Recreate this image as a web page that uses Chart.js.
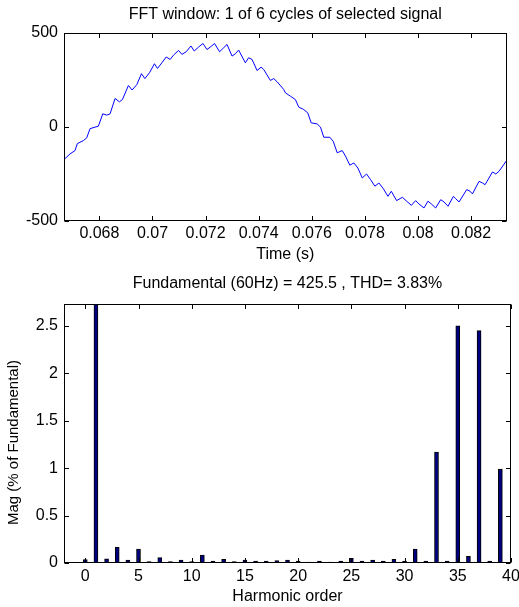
<!DOCTYPE html>
<html>
<head>
<meta charset="utf-8">
<script src="https://cdn.jsdelivr.net/npm/chart.js@4"></script>
<style>
    body { margin: 0; background: #fff; }
    #wrap { position: relative; width: 519px; height: 607px; }
    canvas { position: absolute; left: 0; }
    #signal-graph { top: 0; }
    #fft-graph { top: 265px; }
</style>
</head>
<body>
<div id="wrap">
    <canvas id="signal-graph" width="519" height="265"></canvas>
    <canvas id="fft-graph" width="519" height="342"></canvas>
</div>
<script>
// signal samples (time in s, amplitude)
const timeS = [
    0.066667, 0.066893, 0.067082, 0.067169, 0.067395, 0.067523, 0.067648, 0.067836, 0.067961, 0.068127,
    0.068278, 0.068402, 0.068591, 0.068753, 0.068867, 0.069093, 0.069233, 0.069410, 0.069584, 0.069712,
    0.069886, 0.070074, 0.070188, 0.070353, 0.070516, 0.070667, 0.070791, 0.070980, 0.071108, 0.071270,
    0.071448, 0.071572, 0.071734, 0.071900, 0.072051, 0.072176, 0.072338, 0.072527, 0.072678, 0.072806,
    0.072995, 0.073119, 0.073244, 0.073497, 0.073621, 0.073750, 0.073938, 0.074089, 0.074187, 0.074440,
    0.074565, 0.074693, 0.074942, 0.075006, 0.075195, 0.075383, 0.075508, 0.075697, 0.075848, 0.075976,
    0.076203, 0.076327, 0.076452, 0.076678, 0.076806, 0.076957, 0.077146, 0.077271, 0.077433, 0.077584,
    0.077735, 0.077901, 0.078063, 0.078214, 0.078376, 0.078527, 0.078693, 0.078867, 0.078995, 0.079195,
    0.079410, 0.079572, 0.079750, 0.079912, 0.080036, 0.080225, 0.080376, 0.080504, 0.080666, 0.080855,
    0.080980, 0.081130, 0.081334, 0.081421, 0.081546, 0.081836, 0.081961, 0.082051, 0.082300, 0.082429,
    0.082527, 0.082806, 0.082931, 0.083055, 0.083333
];
const signal = [
    -175, -145, -127, -90, -74, -59, -10, -2, 3, 69,
    62, 69, 151, 133, 145, 220, 196, 225, 283, 257,
    288, 336, 311, 341, 372, 359, 382, 407, 386, 400,
    431, 404, 425, 444, 412, 425, 444, 400, 421, 439,
    377, 389, 409, 341, 368, 359, 300, 318, 306, 247,
    257, 240, 199, 181, 163, 145, 105, 92, 74, 21,
    15, -2, -56, -56, -77, -139, -127, -157, -205, -193,
    -220, -273, -252, -282, -317, -300, -330, -371, -344, -394,
    -376, -397, -419, -394, -412, -433, -397, -412, -433, -389,
    -401, -424, -371, -384, -401, -335, -344, -358, -291, -300,
    -309, -241, -252, -237, -181
];
const timeTicks = [0.068, 0.07, 0.072, 0.074, 0.076, 0.078, 0.08, 0.082];
const timeTickLabels = ["0.068", "0.07", "0.072", "0.074", "0.076", "0.078", "0.08", "0.082"];
const signalTicks = [-500, 0, 500];

// harmonic spectrum (% of fundamental)
const harmonicOrder = [
    0, 1, 2, 3, 4, 5, 6, 7, 8, 9, 10, 11, 12, 13, 14, 15, 16, 17, 18, 19,
    20, 21, 22, 23, 24, 25, 26, 27, 28, 29, 30, 31, 32, 33, 34, 35, 36, 37, 38, 39
];
const magPct = [
    0.035, 100, 0.045, 0.165, 0.03, 0.147, 0.015, 0.056, 0.015, 0.03,
    0.015, 0.084, 0.02, 0.04, 0.015, 0.03, 0.02, 0.02, 0.025, 0.03,
    0.02, 0.01, 0.02, 0.01, 0.02, 0.05, 0.02, 0.03, 0.02, 0.04,
    0.02, 0.147, 0.02, 1.17, 0.02, 2.50, 0.07, 2.45, 0.02, 0.99
];
const harmonicTicks = [0, 5, 10, 15, 20, 25, 30, 35, 40];
const magTicks = [0, 0.5, 1, 1.5, 2, 2.5];
const magTickLabels = ["0", "0.5", "1", "1.5", "2", "2.5"];

Chart.defaults.font.family = '"Liberation Sans", Arial, sans-serif';
Chart.defaults.font.size = 16;
Chart.defaults.color = "#000";
Chart.defaults.animation = false;

// matlab style box: frame, inward ticks on all four sides, axes title and y label
const matlabBox = {
    id: "matlabBox",
    afterDatasetsDraw(chart, args, opts) {
        const { ctx, chartArea: a, scales } = chart;
        const L = Math.round(a.left) + 0.5, R = Math.round(a.right) - 0.5;
        const T = Math.round(a.top) + 0.5, B = Math.round(a.bottom) - 0.5;
        const len = 4.5;
        ctx.save();
        ctx.strokeStyle = "#000";
        ctx.lineWidth = 1;
        ctx.beginPath();
        scales.x.ticks.forEach((t) => {
            const px = Math.round(scales.x.getPixelForValue(t.value)) + 0.5;
            ctx.moveTo(px, B); ctx.lineTo(px, B - len);
            ctx.moveTo(px, T); ctx.lineTo(px, T + len);
        });
        scales.y.ticks.forEach((t) => {
            const py = Math.round(scales.y.getPixelForValue(t.value)) + 0.5;
            ctx.moveTo(L, py); ctx.lineTo(L + len, py);
            ctx.moveTo(R, py); ctx.lineTo(R - len, py);
        });
        ctx.stroke();
        ctx.strokeRect(L, T, R - L, B - T);
        ctx.fillStyle = "#000";
        ctx.font = '16px "Liberation Sans", Arial, sans-serif';
        ctx.textAlign = "center";
        ctx.textBaseline = "middle";
        ctx.fillText(opts.title, (a.left + a.right) / 2, a.top - opts.titleGap);
        if (opts.yTitle) {
            // matlab puts this label a little below the axes centre
            ctx.font = '15px "Liberation Sans", Arial, sans-serif';
            ctx.translate(14, (a.top + a.bottom) / 2 + 9);
            ctx.rotate(-Math.PI / 2);
            ctx.fillText(opts.yTitle, 0, 0);
        }
        ctx.restore();
    },
};

function fixY(width) {
    return (s) => { s.width = width; s.paddingTop = 0; s.paddingBottom = 0; };
}
function fixX(height) {
    return (s) => { s.height = height; s.paddingLeft = 0; s.paddingRight = 0; };
}
function useTicks(values) {
    return (s) => { s.ticks = values.map((v) => ({ value: v })); };
}

// no grid, no outside tick marks (the plugin draws them inside)
const noGrid = { display: false, drawTicks: false, tickLength: 0 };

function createSignalGraph() {
    const ctx = document.getElementById("signal-graph").getContext("2d");
    window.signalGraph = new Chart(ctx, {
        type: "line",
        data: {
            datasets: [
                {
                    data: timeS.map((t, i) => ({ x: t, y: signal[i] })),
                    borderColor: "#0000ff",
                    borderWidth: 1,
                    pointRadius: 0,
                    tension: 0,
                    fill: false,
                },
            ],
        },
        options: {
            responsive: false,
            layout: { padding: { top: 33, right: 12.5, left: 0, bottom: 0 } },
            plugins: {
                legend: { display: false },
                tooltip: { enabled: false },
                matlabBox: { title: "FFT window: 1 of 6 cycles of selected signal", titleGap: 18 },
            },
            scales: {
                x: {
                    type: "linear",
                    min: 0.0666667,
                    max: 0.0833333,
                    afterBuildTicks: useTicks(timeTicks),
                    afterFit: fixX(44.5),
                    grid: noGrid,
                    border: { display: false },
                    ticks: {
                        padding: 3,
                        maxRotation: 0,
                        callback: (value, index) => timeTickLabels[index],
                    },
                    title: { display: true, text: "Time (s)", padding: { top: 0, bottom: 0.5 } },
                },
                y: {
                    min: -500,
                    max: 500,
                    afterBuildTicks: useTicks(signalTicks),
                    afterFit: fixY(64),
                    grid: noGrid,
                    border: { display: false },
                    ticks: { padding: 6 },
                },
            },
        },
        plugins: [matlabBox],
    });
}

function createFftGraph() {
    const ctx = document.getElementById("fft-graph").getContext("2d");
    window.fftGraph = new Chart(ctx, {
        type: "bar",
        data: {
            datasets: [
                {
                    data: harmonicOrder.map((h, i) => ({ x: h, y: magPct[i] })),
                    backgroundColor: "#000080",
                    borderColor: "#000000",
                    borderWidth: 1,
                    barThickness: 4,
                    clip: 0,
                },
            ],
        },
        options: {
            responsive: false,
            layout: { padding: { top: 39, right: 8, left: 0, bottom: 0 } },
            plugins: {
                legend: { display: false },
                tooltip: { enabled: false },
                matlabBox: {
                    title: "Fundamental (60Hz) = 425.5 , THD= 3.83%",
                    titleGap: 20,
                    yTitle: "Mag (% of Fundamental)",
                },
            },
            scales: {
                x: {
                    type: "linear",
                    min: -2,
                    max: 40,
                    offset: false,
                    afterBuildTicks: useTicks(harmonicTicks),
                    afterFit: fixX(44),
                    grid: noGrid,
                    border: { display: false },
                    ticks: { padding: 4, maxRotation: 0 },
                    title: { display: true, text: "Harmonic order", padding: { top: 0, bottom: 1 } },
                },
                y: {
                    min: 0,
                    max: 2.73,
                    afterBuildTicks: useTicks(magTicks),
                    afterFit: fixY(64),
                    grid: noGrid,
                    border: { display: false },
                    ticks: {
                        padding: 6,
                        callback: (value, index) => magTickLabels[index],
                    },
                },
            },
        },
        plugins: [matlabBox],
    });
}

createSignalGraph();
createFftGraph();
</script>
</body>
</html>
